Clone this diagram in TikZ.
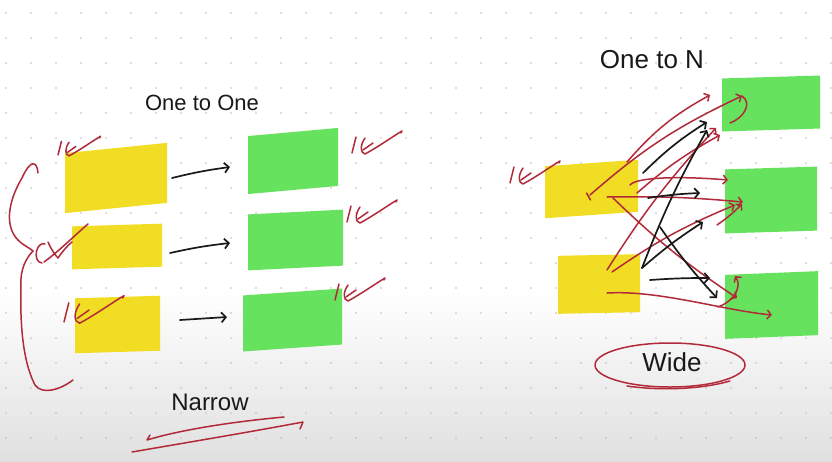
\documentclass[tikz,border=0pt]{standalone}
\usepackage{fontspec}
\setmainfont{Liberation Sans}
\usetikzlibrary{arrows.meta,calc}
\definecolor{yel}{RGB}{242,221,37}
\definecolor{grn}{RGB}{103,226,95}
\definecolor{rpen}{RGB}{178,42,58}
\definecolor{kpen}{RGB}{25,25,25}
\definecolor{dotc}{RGB}{190,190,190}
\newcommand\mybox[7]{\begin{scope}[shift={(#3,#4)},yslant=#7]\node[box,fill=#2,minimum width=#5pt,minimum height=#6pt,transform shape] (#1) at (0,0) {};\end{scope}}
\tikzset{
  box/.style={draw=none,inner sep=0pt,outer sep=0pt},
  redpen/.style={draw=rpen,line width=1.5pt,line cap=round,line join=round},
  rarr/.style={redpen,-{Straight Barb[length=4pt,width=9pt]}},
  karr/.style={draw=kpen,line width=1.7pt,line cap=round,line join=round,-{Straight Barb[length=4.5pt,width=10pt]}},
  title/.style={text=kpen,inner sep=0pt},
  onex/.pic={
    \draw[redpen] (4,-16) .. controls (2,-8) .. (0,0);
    \draw[redpen] (13,-15) .. controls (8,-8) and (8,0) .. (13,1) .. controls (26,-6) and (40,-16) .. (50,-22) -- (49,-20);
    \draw[redpen] (21,-10) -- (11,-3);
  }
}
\begin{document}
\begin{tikzpicture}[x=1pt,y=-1pt]
\useasboundingbox (0,0) rectangle (832,461);
\fill[white] (0,0) rectangle (832,461);
\shade[top color=white,bottom color=black!12] (0,290) rectangle (832,461);
\foreach \i in {0,...,33}{\foreach \j in {0,...,17}{\fill[dotc] (6+25*\i,13+25*\j) circle (0.9pt);}}

% titles
\node[title,font=\fontsize{22}{24}\selectfont] (t1) at (202,103) {One to One};
\node[title,font=\fontsize{26}{28}\selectfont] (t2) at (652,60) {One to N};
\node[title,font=\fontsize{24}{26}\selectfont] (t3) at (210,402) {Narrow};
\node[title,font=\fontsize{26}{28}\selectfont] (t4) at (672,362) {Wide};

% left boxes
\mybox{y1}{yel}{116}{178}{102}{60}{0.1}
\mybox{y2}{yel}{117}{246.5}{90}{43}{0.03}
\mybox{y3}{yel}{117.5}{324.5}{85}{55}{0.03}
\mybox{g1}{grn}{293}{161}{90}{58}{0.09}
\mybox{g2}{grn}{295.5}{240}{95}{56}{0.05}
\mybox{g3}{grn}{292.5}{320}{99}{56}{0.07}
% right boxes
\mybox{y4}{yel}{591.5}{189}{93}{52}{0.07}
\mybox{y5}{yel}{599}{284}{82}{58}{0.02}
\mybox{g4}{grn}{771}{103.5}{98}{53}{0.03}
\mybox{g5}{grn}{771}{200}{92}{64}{0.03}
\mybox{g6}{grn}{771.5}{305}{93}{64}{0.04}

% one to one arrows
\draw[karr] ($(y1.center)+(56,0)$) to[bend left=3] ($(g1.center)+(-63,6)$);
\draw[karr] ($(y2.center)+(53,6.5)$) to[bend left=3] ($(g2.center)+(-65.5,3)$);
\draw[karr] ($(y3.center)+(62.5,-4.5)$) to ($(g3.center)+(-65.5,-3)$);

% red marks
\pic[scale=0.85] at (58,155) {onex};
\pic at (352,153) {onex};
\pic at (347,222) {onex};
\pic at (335,300) {onex};
\pic[scale=1.2] at (64,322) {onex};
\pic at (510,183) {onex};

% brace with scribble
\draw[redpen] (38,173) .. controls (37,160) and (30,160) .. (22,178) .. controls (6,205) and (6,228) .. (18,240) .. controls (24,246) and (30,248) .. (33,251);
\draw[redpen] (33,251) .. controls (26,258) and (20,270) .. (21,285) .. controls (20,320) and (22,360) .. (35,385) .. controls (42,395) and (60,390) .. (73,380);
\draw[redpen] (45,244) .. controls (36,241) and (32,262) .. (42,263);
\draw[redpen] (44,262) .. controls (58,252) and (74,236) .. (88,224);
\draw[redpen] (48,242) .. controls (51,249) and (55,255) .. (58,258) .. controls (62,252) and (67,246) .. (72,242);

% underline Narrow
\draw[redpen] ($(t3.center)+(74,15)$) .. controls ($(t3.center)+(20,20)$) and ($(t3.center)+(-30,28)$) .. ($(t3.center)+(-63,38)$) -- ($(t3.center)+(-60,33)$);
\draw[redpen] ($(t3.center)+(-78,50)$) .. controls ($(t3.center)+(-20,40)$) and ($(t3.center)+(40,30)$) .. ($(t3.center)+(93,20)$) -- ($(t3.center)+(90,27)$);

% ellipse Wide
\draw[redpen] ($(t4.center)+(-2,3)$) ellipse [x radius=75, y radius=22];
\draw[redpen] ($(t4.center)+(-45,24)$) .. controls ($(t4.center)+(-10,29)$) and ($(t4.center)+(30,27)$) .. ($(t4.center)+(58,19)$);

% one to N: red arrows
\draw[rarr] ($(y4.center)+(35.5,-27)$) to[bend left=10] ($(g4.center)+(-61,-8.5)$);
\draw[rarr] ($(y4.center)+(-1.5,6)$) to[bend left=8] ($(g4.center)+(-29,-7.5)$);
\draw[redpen] ($(g4.center)+(-29,-7.5)$) .. controls ($(g4.center)+(-18,0)$) and ($(g4.center)+(-28,15)$) .. ($(g4.center)+(-41,19.5)$);
\draw[rarr] ($(y4.center)+(45.5,4)$) to[bend left=6] ($(g4.center)+(-51,31.5)$);
\draw[rarr] ($(y4.center)+(38.5,-4)$) .. controls ($(y4.center)+(45,-12)$) and ($(g5.center)+(-90,-24)$) .. ($(g5.center)+(-43,-20)$);
\draw[rarr] ($(y4.center)+(15.5,8)$) to[bend left=3] ($(g5.center)+(-28,2)$);
\draw[rarr] ($(y4.center)+(21.5,9)$) to[bend right=5] ($(g6.center)+(-34.5,-7)$);
\draw[rarr] ($(y5.center)+(8,-14)$) to[bend left=5] ($(g4.center)+(-55,24.5)$);
\draw[rarr] ($(y5.center)+(13,-12)$) to[bend left=6] ($(g5.center)+(-36,5)$);
\draw[rarr] ($(y5.center)+(8,9)$) .. controls ($(y5.center)+(60,6)$) and ($(g6.center)+(-50,5)$) .. ($(g6.center)+(0.5,10)$);
\draw[rarr] ($(g6.center)+(-53.5,2)$) .. controls ($(g6.center)+(-35,-5)$) and ($(g6.center)+(-30,-20)$) .. ($(g6.center)+(-36.5,-29)$);
\draw[rarr] ($(g5.center)+(-54,25)$) to[bend right=5] ($(g5.center)+(-29,4)$);
\draw[redpen] ($(y4.center)+(-5,4)$) -- ($(y4.center)+(-1,11)$);

% one to N: black arrows
\draw[karr] ($(y4.center)+(51.5,-16)$) to[bend left=6] ($(g4.center)+(-64,18.5)$);
\draw[karr] ($(y4.center)+(56.5,9)$) to[bend left=3] ($(g5.center)+(-71,-7)$);
\draw[karr] ($(y5.center)+(43,-16)$) to[bend left=4] ($(g4.center)+(-64,26.5)$);
\draw[karr] ($(y5.center)+(43,-16)$) to[bend left=4] ($(g5.center)+(-68,22)$);
\draw[karr] ($(y4.center)+(68.5,38)$) to[bend right=4] ($(g6.center)+(-54.5,-7)$);
\draw[karr] ($(y5.center)+(51,-4)$) to[bend left=2] ($(g6.center)+(-61.5,-27)$);
\end{tikzpicture}
\end{document}
